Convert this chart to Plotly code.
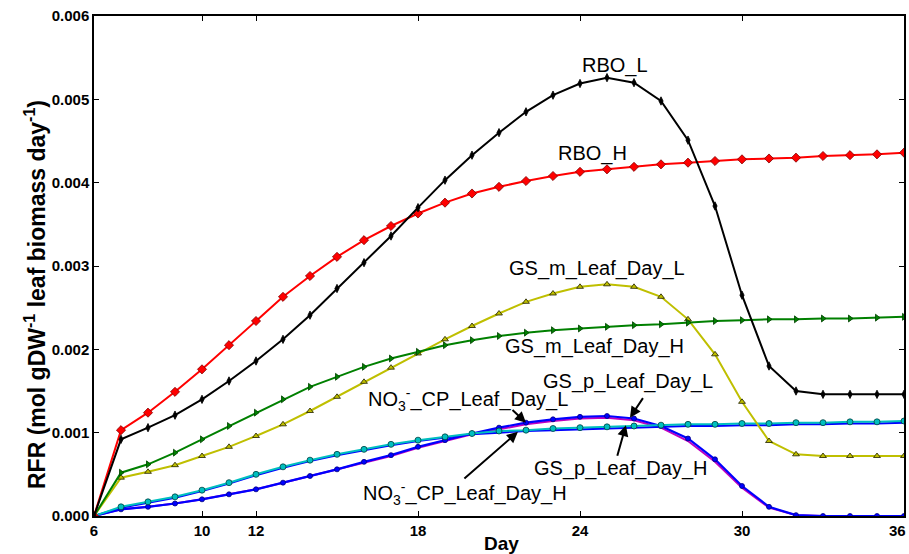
import plotly.graph_objects as go

days = list(range(6, 37))

rbo_l = [0, 0.00092, 0.00106, 0.00121, 0.00140, 0.00162, 0.00186, 0.00212, 0.00241, 0.00273,
         0.00304, 0.00336, 0.00370, 0.00403, 0.00433, 0.00460, 0.00485, 0.00505, 0.00519, 0.00526,
         0.00520, 0.00498, 0.00451, 0.00372, 0.00265, 0.00180, 0.00150, 0.00146, 0.00146, 0.00146, 0.00146]
rbo_h = [0, 0.00103, 0.00124, 0.00149, 0.00176, 0.00205, 0.00234, 0.00263, 0.00288, 0.00311,
         0.00331, 0.00348, 0.00363, 0.00376, 0.00387, 0.00395, 0.00402, 0.00408, 0.00413, 0.00416,
         0.00419, 0.00422, 0.00424, 0.00426, 0.00428, 0.00429, 0.00430, 0.00432, 0.00433, 0.00434, 0.00436]
gs_m_h = [0, 0.00052, 0.00062, 0.00076, 0.00092, 0.00108, 0.00124, 0.00140, 0.00155, 0.00167,
          0.00179, 0.00189, 0.00197, 0.00205, 0.00211, 0.00216, 0.00220, 0.00223, 0.00225, 0.00227,
          0.00229, 0.00230, 0.00232, 0.00234, 0.00235, 0.00236, 0.00236, 0.00237, 0.00237, 0.00238, 0.00239]
gs_m_l = [0, 0.00046, 0.00053, 0.00061, 0.00072, 0.00083, 0.00096, 0.00110, 0.00126, 0.00143,
          0.00161, 0.00178, 0.00195, 0.00212, 0.00228, 0.00243, 0.00257, 0.00267, 0.00275, 0.00278,
          0.00275, 0.00263, 0.00236, 0.00194, 0.00137, 0.00090, 0.00074, 0.00072, 0.00072, 0.00072, 0.00072]
gs_p_h = [0, 0.00011, 0.00017, 0.00023, 0.00031, 0.00040, 0.00050, 0.00059, 0.00067, 0.00074,
          0.00080, 0.00086, 0.00091, 0.00095, 0.00099, 0.00102, 0.00103, 0.00105, 0.00106, 0.00107,
          0.00108, 0.00109, 0.00110, 0.00110, 0.00111, 0.00111, 0.00112, 0.00112, 0.00113, 0.00113, 0.00114]
no3_h = [0, 0.00010, 0.00016, 0.00022, 0.00030, 0.00039, 0.00049, 0.00058, 0.00066, 0.00073,
         0.00079, 0.00085, 0.00090, 0.00094, 0.00098, 0.00100, 0.00102, 0.00103, 0.00104, 0.00105,
         0.00106, 0.00107, 0.00108, 0.00108, 0.00109, 0.00109, 0.00110, 0.00110, 0.00111, 0.00111, 0.00112]
gs_p_l = [0, 0.00008, 0.00011, 0.00015, 0.00020, 0.00026, 0.00032, 0.00040, 0.00048, 0.00056,
          0.00065, 0.00073, 0.00083, 0.00091, 0.00099, 0.00106, 0.00112, 0.00116, 0.00119, 0.00120,
          0.00117, 0.00108, 0.00093, 0.00068, 0.00036, 0.00011, 0.00001, 0, 0, 0, 0]
no3_l = [0, 0.00008, 0.00011, 0.00015, 0.00020, 0.00026, 0.00032, 0.00040, 0.00048, 0.00056,
         0.00064, 0.00072, 0.00082, 0.00090, 0.00098, 0.00104, 0.00110, 0.00114, 0.00117, 0.00118,
         0.00115, 0.00106, 0.00090, 0.00065, 0.00034, 0.00010, 0.00001, 0, 0, 0, 0]

x_ticks = [6, 10, 12, 18, 24, 30, 36]
x_tick_text = ["6", "10", "12", "18", "24", "30", "36"]
y_ticks = [0, 0.001, 0.002, 0.003, 0.004, 0.005, 0.006]

fig = go.Figure()

def add(y, color, symbol, size, lw=2, edge=None, show_marker=True):
    mode = "lines+markers" if show_marker else "lines"
    fig.add_trace(go.Scatter(
        x=days, y=y, mode=mode,
        line=dict(color=color, width=lw),
        marker=dict(symbol=symbol, size=size, color=color,
                    line=dict(color=edge or color, width=0.8)),
        showlegend=False, cliponaxis=True))

add(no3_l, "#BF00BF", "circle", 4, lw=2, show_marker=False)
add(gs_p_l, "#0000FF", "circle", 5, lw=2.2, edge="#000080")
add(no3_h, "#0000FF", "circle", 4, lw=2, show_marker=False)
add(gs_p_h, "#00BFBF", "circle", 6, lw=2, edge="#004040")
add(gs_m_l, "#BFBF00", "triangle-up", 6, lw=2, edge="#202000")
add(gs_m_h, "#008000", "triangle-right", 6, lw=2, edge="#004000")
add(rbo_h, "#FF0000", "diamond", 7, lw=2, edge="#800000")
add(rbo_l, "#000000", "diamond-tall", 6, lw=2)

FONT = "Liberation Sans, Arial, sans-serif"
lab_font = dict(family=FONT, size=20, color="black")
labels = [
    ("RBO_L", 615, 66),
    ("RBO_H", 592, 153),
    ("GS_m_Leaf_Day_L", 597, 268),
    ("GS_m_Leaf_Day_H", 594, 346),
    ("NO<sub>3</sub><sup>-</sup>_CP_Leaf_Day_L", 468, 399),
    ("GS_p_Leaf_Day_L", 628, 381),
    ("GS_p_Leaf_Day_H", 620, 468),
    ("NO<sub>3</sub><sup>-</sup>_CP_Leaf_Day_H", 465, 493),
]
L, T, R, B = 94, 16, 5, 38
W, H = 909 - L - R, 554 - T - B
for txt, px, py in labels:
    fig.add_annotation(text=txt, x=(px - L) / W, y=1 - (py - T) / H,
                       xref="paper", yref="paper", showarrow=False,
                       font=lab_font, xanchor="center", yanchor="middle")

# arrows: head on curves (data coords), tail offsets in px
arrows = [
    (22, gs_p_l[22 - 6], -15, -14),
    (25.85, 0.00118, 14, -21),
    (25.7, 0.00109, -9, 32),
    (21.7, 0.00101, -55, 48),
]
for hx, hy, ax, ay in arrows:
    fig.add_annotation(x=hx, y=hy, xref="x", yref="y", text="", showarrow=True,
                       ax=ax, ay=ay, arrowhead=2, arrowsize=1.1, arrowwidth=2,
                       arrowcolor="black", standoff=0)

# axis titles as annotations
fig.add_annotation(text="<b>Day</b>", x=(501 - L) / W, y=1 - (543 - T) / H,
                   xref="paper", yref="paper", showarrow=False,
                   font=dict(family=FONT, size=19, color="black"),
                   xanchor="center", yanchor="middle")
fig.add_annotation(text="<b>RFR (mol gDW<sup>-1</sup> leaf biomass day<sup>-1</sup>)</b>",
                   x=(35 - L) / W, y=1 - (295 - T) / H, textangle=-90,
                   xref="paper", yref="paper", showarrow=False,
                   font=dict(family=FONT, size=23, color="black"),
                   xanchor="center", yanchor="middle")

tick_font = dict(family=FONT, size=15, color="black", weight="bold")
# last x tick label placed so that it stays inside the page
fig.add_annotation(text=x_tick_text[-1], x=(908 - L) / W, y=1 - (530 - T) / H,
                   xref="paper", yref="paper", showarrow=False, font=tick_font,
                   xanchor="right", yanchor="middle")

axis_common = dict(showline=True, linecolor="black", linewidth=1.5, mirror="ticks",
                   ticks="inside", ticklen=5, tickcolor="black", tickwidth=1,
                   showgrid=False, zeroline=False, tickfont=tick_font, automargin=False)

fig.update_xaxes(range=[6, 36], tickvals=x_ticks, ticktext=x_tick_text[:-1] + [""],
                 **axis_common)
fig.update_yaxes(range=[0, 0.006], tickvals=y_ticks, tickformat=".3f", **axis_common)

fig.update_layout(width=909, height=554, margin=dict(l=L, r=R, t=T, b=B),
                  plot_bgcolor="white", paper_bgcolor="white")

fig.write_html("out.html", config={"displayModeBar": False},
               post_script="document.body.style.margin='0px';document.body.style.overflow='hidden';")
